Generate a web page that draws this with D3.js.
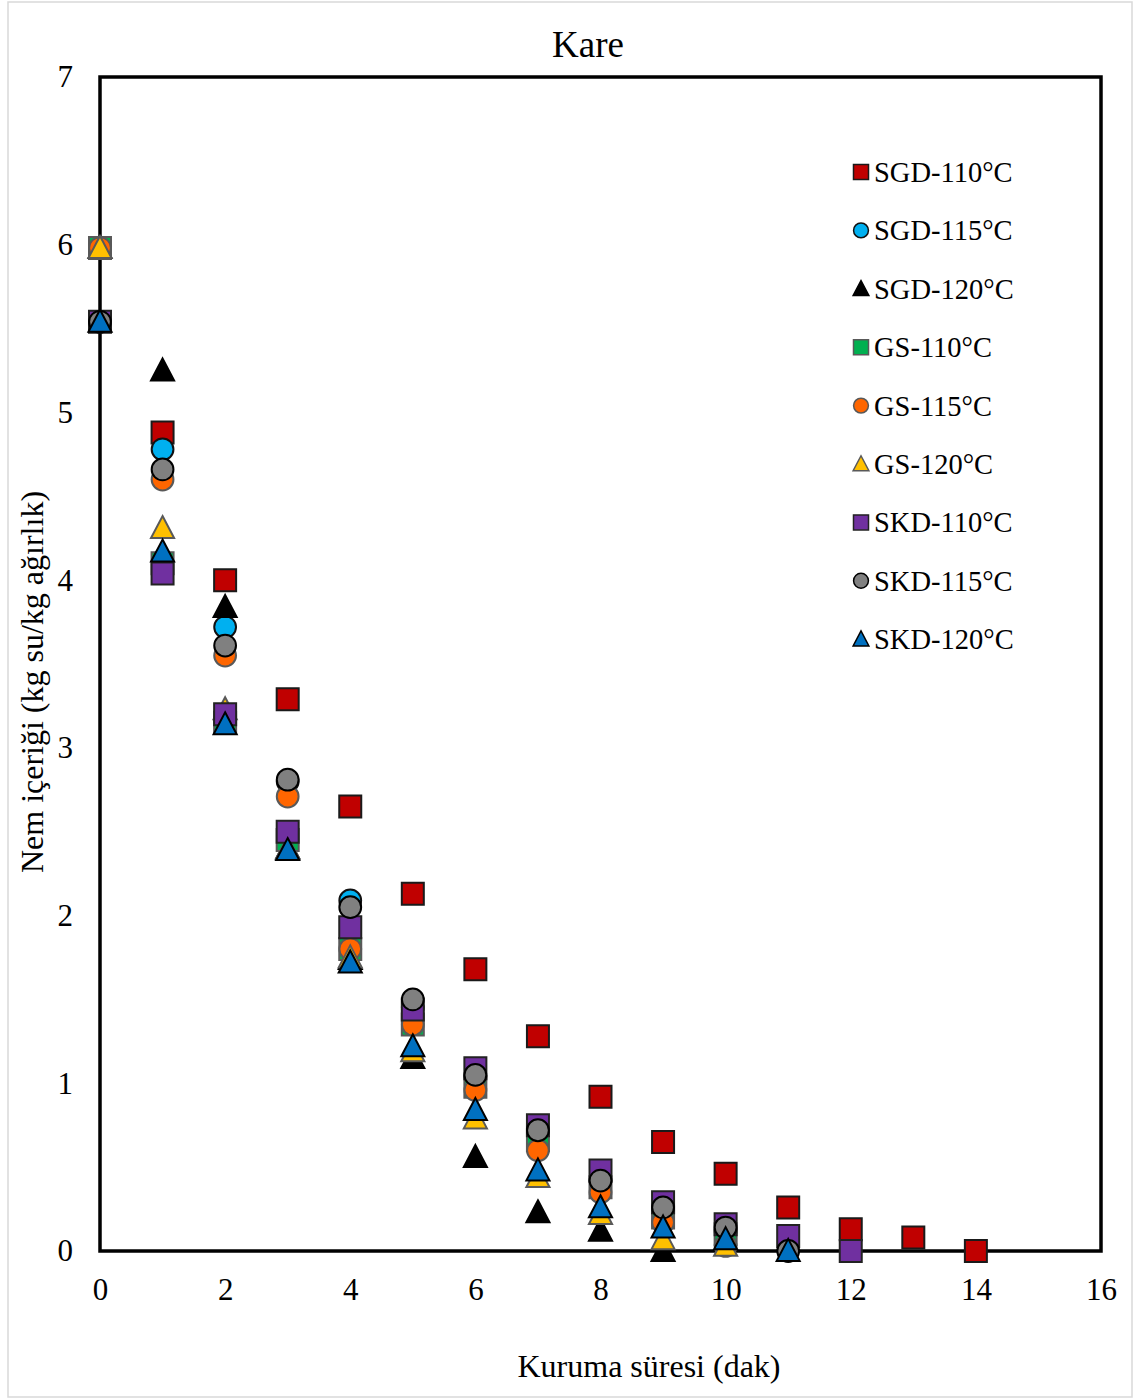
<!DOCTYPE html>
<html>
<head>
<meta charset="utf-8">
<script src="https://cdn.jsdelivr.net/npm/d3@7"></script>
<style>
  html, body { margin: 0; padding: 0; background: #fff; }
  svg { display: block; font-family: "Liberation Serif", "Times New Roman", serif; }
</style>
</head>
<body>
<svg id="chart" width="1136" height="1400"></svg>
<script>
// Drying time (min) and moisture content (kg water / kg dry matter)
const seriesNames = ["SGD-110°C", "SGD-115°C", "SGD-120°C", "GS-110°C", "GS-115°C", "GS-120°C", "SKD-110°C", "SKD-115°C", "SKD-120°C"];
const sgd110 = [5.98, 4.88, 4.00, 3.29, 2.65, 2.13, 1.68, 1.28, 0.92, 0.65, 0.46, 0.26, 0.13, 0.08, 0.00];
const sgd115 = [5.98, 4.78, 3.72, 2.80, 2.09, 1.45, 1.04, 0.70, 0.42, 0.24, 0.12];
const sgd120 = [5.98, 5.25, 3.84, 2.40, 1.74, 1.15, 0.56, 0.23, 0.12, 0.00];
const gs110  = [5.98, 4.10, 3.15, 2.45, 1.80, 1.35, 0.98, 0.66, 0.38, 0.20, 0.10];
const gs115  = [5.98, 4.60, 3.55, 2.71, 1.80, 1.35, 0.96, 0.60, 0.35, 0.17, 0.03];
const gs120  = [5.98, 4.31, 3.23, 2.40, 1.75, 1.19, 0.79, 0.44, 0.22, 0.07, 0.03];
const skd110 = [5.54, 4.04, 3.20, 2.50, 1.93, 1.44, 1.09, 0.75, 0.48, 0.29, 0.16, 0.09, 0.00];
const skd115 = [5.54, 4.66, 3.61, 2.81, 2.05, 1.50, 1.05, 0.72, 0.42, 0.26, 0.14, 0.00];
const skd120 = [5.54, 4.17, 3.14, 2.39, 1.72, 1.22, 0.84, 0.48, 0.26, 0.14, 0.07, 0.00];
const seriesValues = [sgd110, sgd115, sgd120, gs110, gs115, gs120, skd110, skd115, skd120];
const xTicks = [0, 2, 4, 6, 8, 10, 12, 14, 16];
const yTicks = [0, 1, 2, 3, 4, 5, 6, 7];

const shapes = ["square", "circle", "triangle", "square", "circle", "triangle", "square", "circle", "triangle"];
const fills = ["#C00000", "#00B0F0", "#000000", "#00B050", "#FF6600", "#FFC000", "#7030A0", "#808080", "#0070C0"];
const strokes = ["#1a1a1a", "#111111", "#000000", "#595959", "#595959", "#595959", "#222222", "#000000", "#000000"];

const svg = d3.select("#chart");
const margin = { left: 100, top: 77, right: 1101, bottom: 1251 };

const x = d3.scaleLinear().domain([0, 16]).range([margin.left, margin.right]);
const y = d3.scaleLinear().domain([0, 7]).range([margin.bottom, margin.top]);

// Light outer frame
svg.append("rect")
  .attr("x", 8).attr("y", 2).attr("width", 1124).attr("height", 1395)
  .attr("fill", "none").attr("stroke", "#d9d9d9").attr("stroke-width", 1.5);

// Title
svg.append("text")
  .attr("x", 588).attr("y", 57)
  .attr("text-anchor", "middle")
  .attr("font-size", 37)
  .text("Kare");

// Axis tick labels (no tick marks)
const xAxis = d3.axisBottom(x).tickValues(xTicks).tickSize(0).tickPadding(27).tickFormat(d3.format("d"));
const yAxis = d3.axisLeft(y).tickValues(yTicks).tickSize(0).tickPadding(27).tickFormat(d3.format("d"));

svg.append("g").attr("transform", `translate(0,${margin.bottom})`).call(xAxis)
  .call(g => g.select(".domain").remove())
  .selectAll("text").attr("font-size", 31).attr("font-family", "Liberation Serif").attr("fill", "#000");
svg.append("g").attr("transform", `translate(${margin.left},0)`).call(yAxis)
  .call(g => g.select(".domain").remove())
  .selectAll("text").attr("font-size", 31).attr("font-family", "Liberation Serif").attr("fill", "#000");

// Axis titles
svg.append("text")
  .attr("x", 649).attr("y", 1377)
  .attr("text-anchor", "middle")
  .attr("font-size", 32)
  .text("Kuruma süresi (dak)");
svg.append("text")
  .attr("transform", "translate(43,682) rotate(-90)")
  .attr("text-anchor", "middle")
  .attr("font-size", 32)
  .text("Nem içeriği (kg su/kg ağırlık)");

// Marker symbol types
const triangleType = {
  draw(ctx, size) {
    const w = Math.sqrt(size) * 1.05, h = Math.sqrt(size);
    ctx.moveTo(0, -h * 0.55);
    ctx.lineTo(w / 2, h * 0.45);
    ctx.lineTo(-w / 2, h * 0.45);
    ctx.closePath();
  }
};
const symbolFor = (shape, s) => {
  if (shape === "square") return d3.symbol(d3.symbolSquare, s * s)();
  if (shape === "circle") return d3.symbol(d3.symbolCircle, Math.PI * (s / 2) * (s / 2) * 0.98)();
  return d3.symbol(triangleType, s * s)();
};

// Plot frame
svg.append("rect")
  .attr("x", margin.left).attr("y", margin.top)
  .attr("width", margin.right - margin.left).attr("height", margin.bottom - margin.top)
  .attr("fill", "none").attr("stroke", "#000").attr("stroke-width", 3.5);

// Data markers, drawn over the frame
const plot = svg.append("g");
seriesValues.forEach((vals, i) => {
  plot.append("g")
    .selectAll("path")
    .data(vals.map((v, t) => ({ t, v })))
    .join("path")
    .attr("transform", d => `translate(${x(d.t)},${y(d.v)})`)
    .attr("d", symbolFor(shapes[i], 22))
    .attr("fill", fills[i])
    .attr("stroke", strokes[i])
    .attr("stroke-width", 2);
});

// Legend
const legend = svg.append("g");
seriesNames.forEach((name, i) => {
  const ly = 172 + i * 58.4;
  legend.append("path")
    .attr("transform", `translate(861,${ly})`)
    .attr("d", symbolFor(shapes[i], 15))
    .attr("fill", fills[i])
    .attr("stroke", strokes[i])
    .attr("stroke-width", 1.5);
  legend.append("text")
    .attr("x", 874).attr("y", ly + 10)
    .attr("font-size", 28.5)
    .text(name);
});
</script>
</body>
</html>
